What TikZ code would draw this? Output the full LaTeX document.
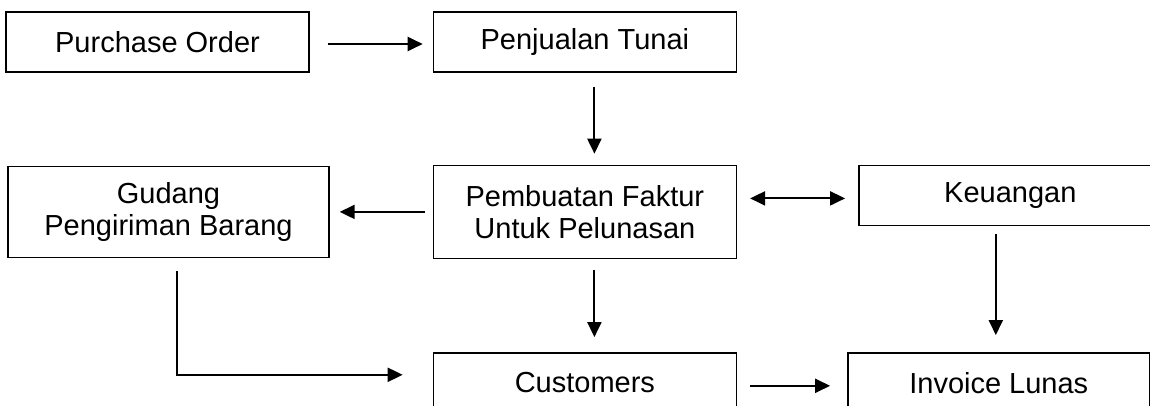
\documentclass[tikz,border=0pt]{standalone}
\usepackage{fontspec}
\setmainfont{Liberation Sans}
\usetikzlibrary{arrows.meta, positioning}

\begin{document}
\begin{tikzpicture}[
        x=1pt, y=-1pt,
        box/.style={rectangle, draw=black, line width=1.4pt, minimum width=303pt, minimum height=60pt, align=center, inner sep=0pt, font=\fontsize{29}{32}\selectfont},
        arr/.style={-{Triangle[length=15pt, width=14pt]}, line width=2pt},
        dblarr/.style={{Triangle[length=15pt, width=14pt]}-{Triangle[length=15pt, width=14pt]}, line width=2pt}
    ]
        \useasboundingbox (0,0) rectangle (1150,405);
        \clip (0,0) rectangle (1150,405);

        \node[box] (po) at (157.5,42) {Purchase Order};
        \node[box, right=123pt of po] (pt) {Penjualan Tunai};
        \node[box, minimum height=93pt, below=92pt of pt] (faktur) {Pembuatan Faktur\\Untuk Pelunasan};
        \node[box, minimum width=321pt, minimum height=91pt, left=103pt of faktur] (gudang) {Gudang\\Pengiriman Barang};
        \node[box, anchor=north west] (keu) at ([xshift=121pt]faktur.north east) {Keuangan};
        \node[box, below=93pt of faktur] (cust) {Customers};
        \node[box, minimum width=302pt, right=110pt of cust] (inv) {Invoice Lunas};

        \draw[arr, shorten <=18pt, shorten >=10pt] ([yshift=-2pt]po.east) -- ([yshift=-2pt]pt.west);
        \draw[arr, shorten <=14pt, shorten >=11pt] ([xshift=9.5pt]pt.south) -- ([xshift=9.5pt]faktur.north);
        \draw[arr, shorten <=8pt, shorten >=10pt] (faktur) -- (gudang);
        \draw[dblarr, shorten <=13pt, shorten >=13pt] ([yshift=-3pt]faktur.east |- keu.west) -- ([yshift=-3pt]keu.west);
        \draw[arr, shorten <=11pt, shorten >=15pt] ([xshift=9.5pt]faktur.south) -- ([xshift=9.5pt]cust.north);
        \draw[arr, shorten <=8pt, shorten >=17pt] ([xshift=-3pt]keu.south -| inv.north) -- ([xshift=-3pt]inv.north);
        \draw[arr, shorten <=13pt, shorten >=30pt] ([xshift=8.5pt]gudang.south) |- ([yshift=8pt]cust.west);
        \draw[arr, shorten <=13pt, shorten >=17pt] ([yshift=-3pt]cust.east) -- ([yshift=-3pt]inv.west);
    \end{tikzpicture}
\end{document}
